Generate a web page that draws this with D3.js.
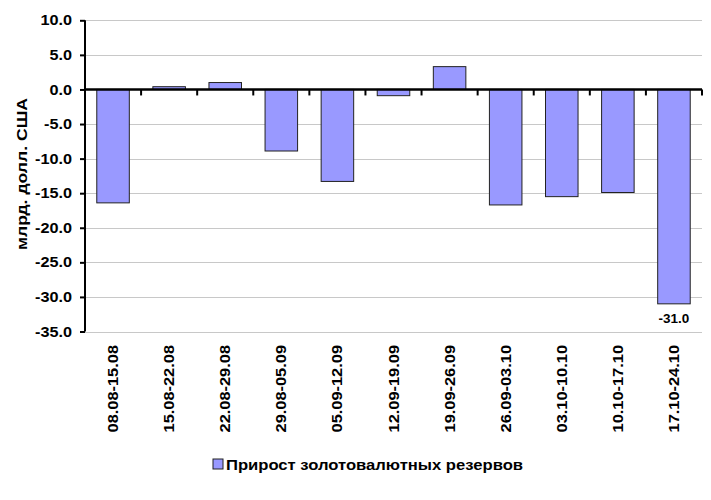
<!DOCTYPE html>
<html><head><meta charset="utf-8">
<script src="https://cdn.jsdelivr.net/npm/d3@7"></script>
<style>body{margin:0;background:#fff}text{font-family:"Liberation Sans",Arial,sans-serif;font-weight:bold}</style>
</head><body><svg id="c" width="711" height="500"></svg>
<script>
const categories = ["08.08-15.08","15.08-22.08","22.08-29.08","29.08-05.09","05.09-12.09","12.09-19.09","19.09-26.09","26.09-03.10","03.10-10.10","10.10-17.10","17.10-24.10"];
const values = [-16.4, 0.4, 1.0, -8.9, -13.3, -0.9, 3.3, -16.7, -15.5, -14.9, -31.0];
const yTicks = [10, 5, 0, -5, -10, -15, -20, -25, -30, -35];
const seriesName = "Прирост золотовалютных резервов";
const yTitle = "млрд. долл. США";
const labelled = ["17.10-24.10"];

const svg = d3.select("#c");
const L = 85, R = 702, T = 20.3, B = 331.5;
const fmt = d => d.toFixed(1);
const x = d3.scaleBand().domain(categories).range([L, R]).paddingInner(0.42).paddingOuter(0.21);
const y = d3.scaleLinear().domain([-35, 10]).range([B, T]);
const stretch = (sel, f) => sel.each(function(){ const w=this.getComputedTextLength(); d3.select(this).attr("textLength", w*f).attr("lengthAdjust","spacingAndGlyphs"); });

// grid
svg.append("g").selectAll("line").data(yTicks).join("line")
  .attr("x1", L).attr("x2", R).attr("y1", d=>Math.round(y(d))+0.5).attr("y2", d=>Math.round(y(d))+0.5)
  .attr("stroke", "#c8c8c8").attr("stroke-width", 1);

// bars
svg.append("g").selectAll("rect").data(values).join("rect")
  .attr("x", (d,i)=>x(categories[i])).attr("width", x.bandwidth())
  .attr("y", d=>y(Math.max(0,d))).attr("height", d=>Math.abs(y(d)-y(0)))
  .attr("fill", "#9999ff").attr("stroke", "#222").attr("stroke-width", 1);

// y axis
const ya = svg.append("g").attr("transform", `translate(${L},0)`)
  .call(d3.axisLeft(y).tickValues(yTicks).tickFormat(fmt).tickSize(5).tickPadding(8));
ya.select(".domain").attr("stroke", "#000").attr("stroke-width", 2).attr("d", `M0,${T}V${B}`);
ya.selectAll(".tick line").attr("stroke", "#000").attr("stroke-width", 2);
ya.selectAll("text").attr("font-size", 14.5).attr("fill", "#000").style("font-family", '"Liberation Sans",Arial,sans-serif').style("font-weight","bold").call(stretch, 1.12);

// zero axis with category boundary ticks
const bounds = categories.map(c => x(c) - x.step()*x.paddingInner()/2 ).concat([R]).slice(1);
svg.append("line").attr("x1", L).attr("x2", R).attr("y1", y(0)).attr("y2", y(0)).attr("stroke", "#000").attr("stroke-width", 2.5);
svg.append("g").selectAll("line").data(bounds).join("line")
  .attr("x1", d=>d).attr("x2", d=>d).attr("y1", y(0)).attr("y2", y(0)+6).attr("stroke", "#000").attr("stroke-width", 2);

// x labels
svg.append("g").selectAll("text").data(categories).join("text")
  .attr("transform", d=>`translate(${x(d)+x.bandwidth()/2+5},345) rotate(-90)`)
  .attr("text-anchor", "end").attr("font-size", 14.5).text(d=>d).call(stretch, 1.13);

// data label
svg.append("g").selectAll("text").data(labelled).join("text")
  .attr("x", d=>x(d)+x.bandwidth()/2).attr("y", d=>y(values[categories.indexOf(d)])+19)
  .attr("text-anchor", "middle").attr("font-size", 12.5).text(d=>fmt(values[categories.indexOf(d)])).call(stretch, 1.08);

// y title
svg.append("text").attr("transform", "translate(27,174) rotate(-90)").attr("text-anchor", "middle")
  .attr("font-size", 14.5).text(yTitle).call(function(s){ s.attr("textLength", 152).attr("lengthAdjust","spacingAndGlyphs"); });

// legend
svg.append("rect").attr("x", 213).attr("y", 459).attr("width", 10).attr("height", 10).attr("fill", "#9999ff").attr("stroke", "#222");
svg.append("text").attr("x", 226).attr("y", 470).attr("font-size", 15).text(seriesName).call(function(s){ s.attr("textLength", 297).attr("lengthAdjust","spacingAndGlyphs"); });
</script></body></html>
